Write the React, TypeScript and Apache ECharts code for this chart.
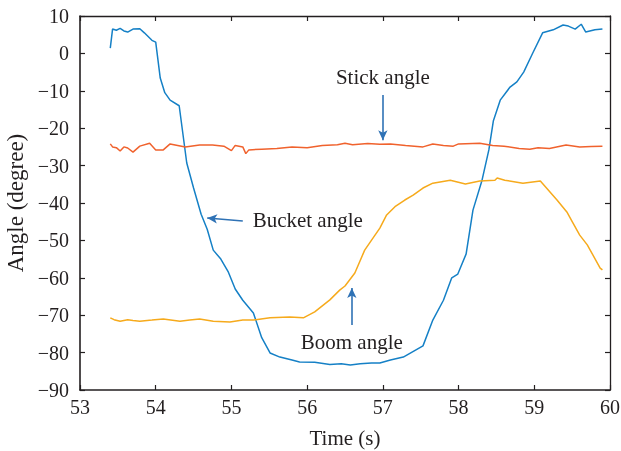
import React, { useEffect, useRef } from "react";
import * as echarts from "echarts";

const bucketT = [53.40, 53.43, 53.48, 53.53, 53.58, 53.63, 53.70, 53.79, 53.85, 53.95, 54.00, 54.06, 54.12, 54.19, 54.31, 54.41, 54.50, 54.60, 54.68, 54.76, 54.86, 54.96, 55.05, 55.15, 55.29, 55.40, 55.51, 55.64, 55.80, 55.90, 56.10, 56.30, 56.45, 56.57, 56.70, 56.85, 56.96, 57.10, 57.27, 57.53, 57.66, 57.80, 57.91, 57.99, 58.10, 58.19, 58.31, 58.40, 58.46, 58.55, 58.68, 58.77, 58.86, 58.98, 59.11, 59.25, 59.38, 59.45, 59.54, 59.62, 59.68, 59.80, 59.90];
const bucketV = [1.4, 6.5, 6.2, 6.7, 6.0, 5.7, 6.5, 6.6, 5.5, 3.5, 3.0, -6.6, -10.5, -12.5, -14.0, -29.3, -36, -43, -47, -52.6, -55, -58.5, -63, -66, -69.4, -76, -80.1, -81.2, -82, -82.5, -82.6, -83.2, -83, -83.3, -83.0, -82.8, -82.8, -82, -81.2, -78.2, -71.3, -66, -60, -59, -53.6, -41.9, -33.9, -25.8, -18, -12.5, -9, -7.6, -5, 0.1, 5.5, 6.3, 7.6, 7.3, 6.5, 7.8, 5.7, 6.3, 6.5];

const stickT = [53.40, 53.43, 53.48, 53.53, 53.58, 53.63, 53.70, 53.79, 53.92, 54.00, 54.10, 54.19, 54.39, 54.58, 54.75, 54.90, 55.00, 55.05, 55.15, 55.19, 55.23, 55.40, 55.60, 55.80, 56.00, 56.20, 56.40, 56.50, 56.60, 56.80, 56.96, 57.10, 57.30, 57.53, 57.66, 57.80, 57.93, 58.00, 58.28, 58.45, 58.60, 58.80, 58.94, 59.05, 59.20, 59.42, 59.60, 59.75, 59.90];
const stickV = [-24.2, -25, -25.2, -26.1, -25, -25.3, -26.4, -24.8, -24, -25.8, -25.8, -24.2, -25, -24.5, -24.5, -24.8, -26.0, -24.6, -25.0, -26.8, -25.8, -25.6, -25.4, -25.0, -25.2, -24.6, -24.4, -24.0, -24.4, -24.1, -24.3, -24.2, -24.6, -25, -24.2, -24.6, -24.8, -24.2, -24, -24.6, -24.8, -25.4, -25.6, -25.2, -25.4, -24.5, -25, -24.9, -24.8];

const boomT = [53.40, 53.45, 53.53, 53.63, 53.70, 53.79, 53.95, 54.10, 54.32, 54.45, 54.58, 54.76, 54.98, 55.15, 55.29, 55.51, 55.77, 55.95, 56.10, 56.30, 56.43, 56.50, 56.63, 56.76, 56.96, 57.05, 57.16, 57.29, 57.40, 57.53, 57.66, 57.89, 58.09, 58.28, 58.48, 58.51, 58.61, 58.85, 59.08, 59.30, 59.43, 59.51, 59.60, 59.70, 59.87, 59.90];
const boomV = [-70.7, -71.2, -71.6, -71.2, -71.4, -71.6, -71.3, -71.0, -71.6, -71.3, -71.0, -71.6, -71.8, -71.3, -71.3, -70.7, -70.5, -70.7, -69.1, -65.9, -63.3, -62.2, -58.7, -52.6, -46.7, -43.2, -41, -39.2, -37.9, -36, -34.7, -33.9, -34.9, -34.1, -33.9, -33.3, -33.9, -34.7, -34.1, -39.2, -42.4, -45.3, -48.6, -51.2, -57.4, -57.9];

const annotations = [
  { text: "Stick angle", at: [57.0, -6.3], align: "center", arrow: [[57.0, -11.1], [57.0, -23.2]] },
  { text: "Bucket angle", at: [55.28, -44.5], align: "left", arrow: [[55.15, -44.8], [54.68, -44.0]] },
  { text: "Boom angle", at: [56.59, -77.2], align: "center", arrow: [[56.59, -72.6], [56.59, -62.7]] },
];

const FONT = "Liberation Serif";
const AXIS_COLOR = "#231f20";
const TEXT_COLOR = "#231f20";
const ARROW_COLOR = "#2f72b5";

const zip = (t: number[], v: number[]) => t.map((x, i) => [x, v[i]]);

export default function App() {
  const ref = useRef<HTMLDivElement>(null);
  useEffect(() => {
    const chart = echarts.init(ref.current!, null, { renderer: "svg" });
    const axisLine = { show: true, onZero: false, lineStyle: { color: AXIS_COLOR, width: 1.6 } };
    const thinLine = { show: true, onZero: false, lineStyle: { color: AXIS_COLOR, width: 1.3 } };
    const axisTick = { show: true, inside: true, length: 5, lineStyle: { color: AXIS_COLOR, width: 1.2 } };
    const option: any = {
      animation: false,
      grid: { left: 80, top: 16, right: 11, bottom: 61, containLabel: false, outerBoundsMode: "none" },
      xAxis: [
        {
          type: "value", min: 53, max: 60, interval: 1, position: "bottom",
          name: "Time (s)", nameLocation: "middle", nameGap: 37,
          nameTextStyle: { fontFamily: FONT, fontSize: 21, color: TEXT_COLOR },
          axisLine, axisTick,
          axisLabel: { fontFamily: FONT, fontSize: 20, color: TEXT_COLOR, margin: 7 },
          splitLine: { show: false },
        },
        {
          type: "value", min: 53, max: 60, interval: 1, position: "top",
          axisLine: thinLine, axisTick,
          axisLabel: { show: false }, splitLine: { show: false },
        },
      ],
      yAxis: [
        {
          type: "value", min: -90, max: 10, interval: 10, position: "left",
          name: "Angle (degree)", nameLocation: "middle", nameGap: 49,
          nameTextStyle: { fontFamily: FONT, fontSize: 23, color: TEXT_COLOR },
          axisLine, axisTick,
          axisLabel: { fontFamily: FONT, fontSize: 20, color: TEXT_COLOR, margin: 11, formatter: (v: number) => (v < 0 ? "\u2212" + Math.abs(v) : String(v)) },
          splitLine: { show: false },
        },
        {
          type: "value", min: -90, max: 10, interval: 10, position: "right",
          axisLine: thinLine, axisTick,
          axisLabel: { show: false }, splitLine: { show: false },
        },
      ],
      series: [
        {
          name: "Bucket angle", type: "line", data: zip(bucketT, bucketV), showSymbol: false,
          lineStyle: { color: "#1580c6", width: 1.5 }, itemStyle: { color: "#1580c6" },
          markLine: {
            silent: true, symbol: ["none", "arrow"], symbolSize: [7, 10],
            lineStyle: { color: ARROW_COLOR, width: 1.6, type: "solid" },
            label: { show: false },
            data: annotations.map((a) => [{ coord: a.arrow[0] }, { coord: a.arrow[1] }]),
          },
        },
        {
          name: "Stick angle", type: "line", data: zip(stickT, stickV), showSymbol: false,
          lineStyle: { color: "#f0622d", width: 1.5 }, itemStyle: { color: "#f0622d" },
        },
        {
          name: "Boom angle", type: "line", data: zip(boomT, boomV), showSymbol: false,
          lineStyle: { color: "#f6aa1c", width: 1.5 }, itemStyle: { color: "#f6aa1c" },
        },
      ],
    };
    chart.setOption(option);
    const graphic = annotations.map((a) => {
      const p = chart.convertToPixel({ xAxisIndex: 0, yAxisIndex: 0 }, a.at as number[]) as number[];
      return {
        type: "text", x: p[0], y: p[1],
        style: { text: a.text, fontFamily: FONT, fontSize: 21, fill: TEXT_COLOR, align: a.align, verticalAlign: "middle" },
      };
    });
    chart.setOption({ graphic });
    return () => chart.dispose();
  }, []);
  return <div ref={ref} style={{ position: "fixed", left: 0, top: 0, width: 621, height: 451 }} />;
}
